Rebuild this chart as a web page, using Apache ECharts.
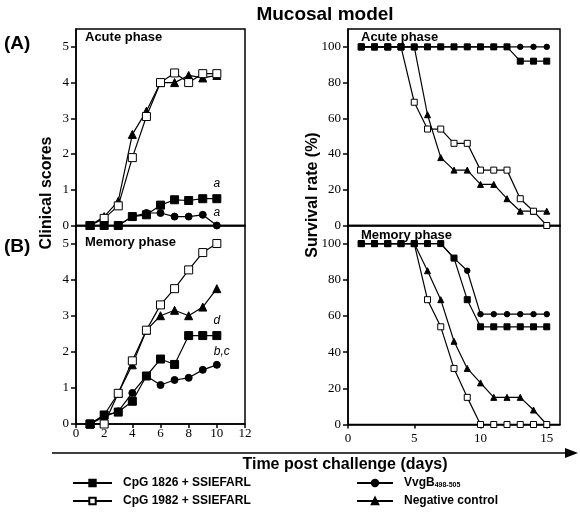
<!DOCTYPE html>
<html>
<head>
<meta charset="utf-8">
<script src="https://cdn.jsdelivr.net/npm/echarts@6/dist/echarts.min.js"></script>
<style>html,body{margin:0;padding:0;background:#fff;}#c{width:580px;height:514px;}</style>
</head>
<body>
<div id="c"></div>
<script>
// ---- data ----
var seriesNames = ['CpG 1826 + SSIEFARL', 'CpG 1982 + SSIEFARL', 'VvgB', 'Negative control'];
var clinDays = [1, 2, 3, 4, 5, 6, 7, 8, 9, 10];
var survDays = [1, 2, 3, 4, 5, 6, 7, 8, 9, 10, 11, 12, 13, 14, 15];

// Clinical scores, acute phase
var acuteCpG1826 = [0, 0, 0, 0.25, 0.3, 0.57, 0.72, 0.7, 0.75, 0.75];
var acuteCpG1982 = [0, 0.2, 0.55, 1.9, 3.05, 4.0, 4.27, 4.0, 4.25, 4.25];
var acuteVvgB    = [0, 0, 0, 0.25, 0.35, 0.35, 0.25, 0.25, 0.3, 0];
var acuteNeg     = [0, 0.25, 0.68, 2.55, 3.2, 4.0, 4.0, 4.2, 4.13, 4.2];

// Clinical scores, memory phase
var memCpG1826 = [0, 0.25, 0.33, 0.63, 1.33, 1.8, 1.65, 2.45, 2.45, 2.45];
var memCpG1982 = [0, 0, 0.85, 1.75, 2.6, 3.3, 3.75, 4.27, 4.75, 5.0];
var memVvgB    = [0, 0.2, 0.35, 0.86, 1.33, 1.08, 1.22, 1.28, 1.5, 1.64];
var memNeg     = [0, 0.25, 0.85, 1.64, 2.6, 3.0, 3.15, 3.0, 3.24, 3.75];

// Survival rate, acute phase
var sAcuteCpG1826 = [100, 100, 100, 100, 100, 100, 100, 100, 100, 100, 100, 100, 92, 92, 92];
var sAcuteCpG1982 = [100, 100, 100, 100, 69, 54, 54, 46, 46, 31, 31, 31, 15, 8, 0];
var sAcuteVvgB    = [100, 100, 100, 100, 100, 100, 100, 100, 100, 100, 100, 100, 100, 100, 100];
var sAcuteNeg     = [100, 100, 100, 100, 100, 62, 38, 31, 31, 23, 23, 15, 8, 8, 8];

// Survival rate, memory phase
var sMemCpG1826 = [100, 100, 100, 100, 100, 100, 100, 92, 69, 54, 54, 54, 54, 54, 54];
var sMemCpG1982 = [100, 100, 100, 100, 100, 69, 54, 31, 15, 0, 0, 0, 0, 0, 0];
var sMemVvgB    = [100, 100, 100, 100, 100, 100, 100, 92, 85, 61, 61, 61, 61, 61, 61];
var sMemNeg     = [100, 100, 100, 100, 100, 85, 69, 46, 31, 23, 15, 15, 15, 8, 0];

var clinTicks = [0, 1, 2, 3, 4, 5];
var survTicks = [0, 20, 40, 60, 80, 100];
var clinXTicks = [0, 2, 4, 6, 8, 10, 12];
var survXTicks = [0, 5, 10, 15];

// ---- styles ----
var styles = {
  'CpG 1826 + SSIEFARL': {symbol: 'rect', color: '#000', border: '#000', z: 5},
  'CpG 1982 + SSIEFARL': {symbol: 'rect', color: '#fff', border: '#000', z: 4},
  'VvgB': {symbol: 'circle', color: '#000', border: '#000', z: 3},
  'Negative control': {symbol: 'triangle', color: '#000', border: '#000', z: 2}
};
var symSizes = {
  clin: {'CpG 1826 + SSIEFARL': 8, 'CpG 1982 + SSIEFARL': 8, 'VvgB': 7, 'Negative control': 8},
  surv: {'CpG 1826 + SSIEFARL': 6, 'CpG 1982 + SSIEFARL': 6, 'VvgB': 5.5, 'Negative control': 6}
};

function pairs(xs, ys, lastLabel, lastOffset) {
  return ys.map(function (v, i) {
    var d = {value: [xs[i], v]};
    if (lastLabel && i === ys.length - 1) {
      d.label = {
        show: true, formatter: lastLabel, position: 'top', distance: 3,
        offset: lastOffset || [0, 0],
        fontStyle: 'italic', fontFamily: 'Liberation Sans', fontSize: 12, color: '#000'
      };
    }
    return d;
  });
}

function mk(name, xs, ys, idx, kind, lbl, off) {
  var st = styles[name];
  return {
    name: name, type: 'line', xAxisIndex: idx, yAxisIndex: idx,
    data: pairs(xs, ys, lbl, off),
    symbol: st.symbol, symbolSize: symSizes[kind][name], showSymbol: true,
    z: st.z, animation: false, silent: true,
    lineStyle: {color: '#000', width: 1.2},
    itemStyle: {color: st.color, borderColor: st.border, borderWidth: 1, opacity: 1},
    label: {show: false}
  };
}

var serif = 'Liberation Serif';
function xAx(idx, max, interval, ticks, showLbl, margin) {
  return {
    type: 'value', gridIndex: idx, min: 0, max: max, interval: interval,
    axisLine: {show: true, onZero: false, lineStyle: {color: '#000', width: 1.5}},
    axisTick: {show: showLbl, length: 4, customValues: ticks, lineStyle: {color: '#000', width: 1.5}},
    axisLabel: {show: showLbl, margin: margin, fontFamily: serif, fontSize: 13, color: '#000',
      customValues: ticks},
    splitLine: {show: false}
  };
}
function yAx(idx, max, ticks) {
  return {
    type: 'value', gridIndex: idx, min: 0, max: max,
    axisLine: {show: true, onZero: false, lineStyle: {color: '#000', width: 1.5}},
    axisTick: {show: true, length: 5, customValues: ticks, lineStyle: {color: '#000', width: 1.5}},
    axisLabel: {show: true, margin: 7, fontFamily: serif, fontSize: 13, color: '#000', customValues: ticks},
    splitLine: {show: false}
  };
}

var gridBase = {show: true, borderColor: '#000', borderWidth: 1.5, backgroundColor: 'transparent', containLabel: false};
var legendText = {fontFamily: 'Liberation Sans', fontWeight: 'bold', fontSize: 12, color: '#000', padding: [0, 0, 0, 6]};
var option = {
  backgroundColor: '#fff',
  animation: false,
  grid: [
    Object.assign({left: 76, top: 29, width: 169, height: 196.5}, gridBase),
    Object.assign({left: 76, top: 225.5, width: 169, height: 198.5}, gridBase),
    Object.assign({left: 348, top: 29, width: 212, height: 196.5}, gridBase),
    Object.assign({left: 348, top: 225.5, width: 212, height: 199}, gridBase)
  ],
  xAxis: [
    xAx(0, 12, 2, clinXTicks, false, 3),
    xAx(1, 12, 2, clinXTicks, true, 3),
    xAx(2, 16, 5, survXTicks, false, 8),
    xAx(3, 16, 5, survXTicks, true, 8)
  ],
  yAxis: [
    yAx(0, 5.5, clinTicks),
    yAx(1, 5.5, clinTicks),
    yAx(2, 110, survTicks),
    yAx(3, 110, survTicks)
  ],
  legend: [
    {
      left: 72, top: 477, width: 240, height: 37, padding: 0, orient: 'vertical',
      itemWidth: 39, itemHeight: 8, itemGap: 6,
      selectedMode: false, data: [seriesNames[0], seriesNames[1]],
      textStyle: legendText
    },
    {
      left: 356, top: 477, width: 200, height: 37, padding: 0, orient: 'vertical',
      itemWidth: 36, itemHeight: 8, itemGap: 6,
      selectedMode: false, data: [seriesNames[2], seriesNames[3]],
      formatter: function (n) { return n === 'VvgB' ? '{m|VvgB}{s|498-505}' : n; },
      textStyle: Object.assign({}, legendText, {
        rich: {
          m: {fontFamily: 'Liberation Sans', fontWeight: 'bold', fontSize: 12, color: '#000'},
          s: {fontFamily: 'Liberation Sans', fontWeight: 'bold', fontSize: 7, color: '#000', verticalAlign: 'bottom', padding: [5, 0, 0, 0]}
        }
      })
    }
  ],
  series: [
    mk('Negative control', clinDays, acuteNeg, 0, 'clin'),
    mk('VvgB', clinDays, acuteVvgB, 0, 'clin', 'a', [0, 0]),
    mk('CpG 1982 + SSIEFARL', clinDays, acuteCpG1982, 0, 'clin'),
    mk('CpG 1826 + SSIEFARL', clinDays, acuteCpG1826, 0, 'clin', 'a', [0, -2]),

    mk('Negative control', clinDays, memNeg, 1, 'clin'),
    mk('VvgB', clinDays, memVvgB, 1, 'clin', 'b,c', [5, 0]),
    mk('CpG 1982 + SSIEFARL', clinDays, memCpG1982, 1, 'clin'),
    mk('CpG 1826 + SSIEFARL', clinDays, memCpG1826, 1, 'clin', 'd', [0, -1]),

    mk('Negative control', survDays, sAcuteNeg, 2, 'surv'),
    mk('VvgB', survDays, sAcuteVvgB, 2, 'surv'),
    mk('CpG 1982 + SSIEFARL', survDays, sAcuteCpG1982, 2, 'surv'),
    mk('CpG 1826 + SSIEFARL', survDays, sAcuteCpG1826, 2, 'surv'),

    mk('Negative control', survDays, sMemNeg, 3, 'surv'),
    mk('CpG 1982 + SSIEFARL', survDays, sMemCpG1982, 3, 'surv'),
    mk('CpG 1826 + SSIEFARL', survDays, sMemCpG1826, 3, 'surv'),
    mk('VvgB', survDays, sMemVvgB, 3, 'surv')
  ],
  graphic: [
    {type: 'text', x: 325, y: 15, style: {text: 'Mucosal model', fontFamily: 'Liberation Sans', fontWeight: 'bold', fontSize: 19, fill: '#000', textAlign: 'center', textVerticalAlign: 'middle'}},
    {type: 'text', x: 4, y: 44, style: {text: '(A)', fontFamily: 'Liberation Sans', fontWeight: 'bold', fontSize: 19, fill: '#000', textAlign: 'left', textVerticalAlign: 'middle'}},
    {type: 'text', x: 4, y: 247, style: {text: '(B)', fontFamily: 'Liberation Sans', fontWeight: 'bold', fontSize: 19, fill: '#000', textAlign: 'left', textVerticalAlign: 'middle'}},
    {type: 'text', x: 47, y: 193, rotation: Math.PI / 2, style: {text: 'Clinical scores', fontFamily: 'Liberation Sans', fontWeight: 'bold', fontSize: 16, fill: '#000', textAlign: 'center', textVerticalAlign: 'middle'}},
    {type: 'text', x: 313, y: 195, rotation: Math.PI / 2, style: {text: 'Survival rate (%)', fontFamily: 'Liberation Sans', fontWeight: 'bold', fontSize: 16, fill: '#000', textAlign: 'center', textVerticalAlign: 'middle'}},
    {type: 'text', x: 85, y: 37, z: 10, style: {text: 'Acute phase', fontFamily: 'Liberation Sans', fontWeight: 'bold', fontSize: 13, fill: '#000', textAlign: 'left', textVerticalAlign: 'middle'}},
    {type: 'text', x: 85, y: 242, z: 10, style: {text: 'Memory phase', fontFamily: 'Liberation Sans', fontWeight: 'bold', fontSize: 13, fill: '#000', textAlign: 'left', textVerticalAlign: 'middle'}},
    {type: 'text', x: 361, y: 37, z: 10, style: {text: 'Acute phase', fontFamily: 'Liberation Sans', fontWeight: 'bold', fontSize: 13, fill: '#000', textAlign: 'left', textVerticalAlign: 'middle'}},
    {type: 'text', x: 361, y: 235, z: 10, style: {text: 'Memory phase', fontFamily: 'Liberation Sans', fontWeight: 'bold', fontSize: 13, fill: '#000', textAlign: 'left', textVerticalAlign: 'middle'}},
    {type: 'line', shape: {x1: 52, y1: 453, x2: 567, y2: 453}, style: {stroke: '#000', lineWidth: 1.5}},
    {type: 'polygon', shape: {points: [[565, 448], [578, 453], [565, 458]]}, style: {fill: '#000'}},
    {type: 'text', x: 345, y: 465, style: {text: 'Time post challenge (days)', fontFamily: 'Liberation Sans', fontWeight: 'bold', fontSize: 16, fill: '#000', textAlign: 'center', textVerticalAlign: 'middle'}}
  ]
};
var chart = echarts.init(document.getElementById('c'), null, {renderer: 'canvas'});
chart.setOption(option);
</script>
</body>
</html>
